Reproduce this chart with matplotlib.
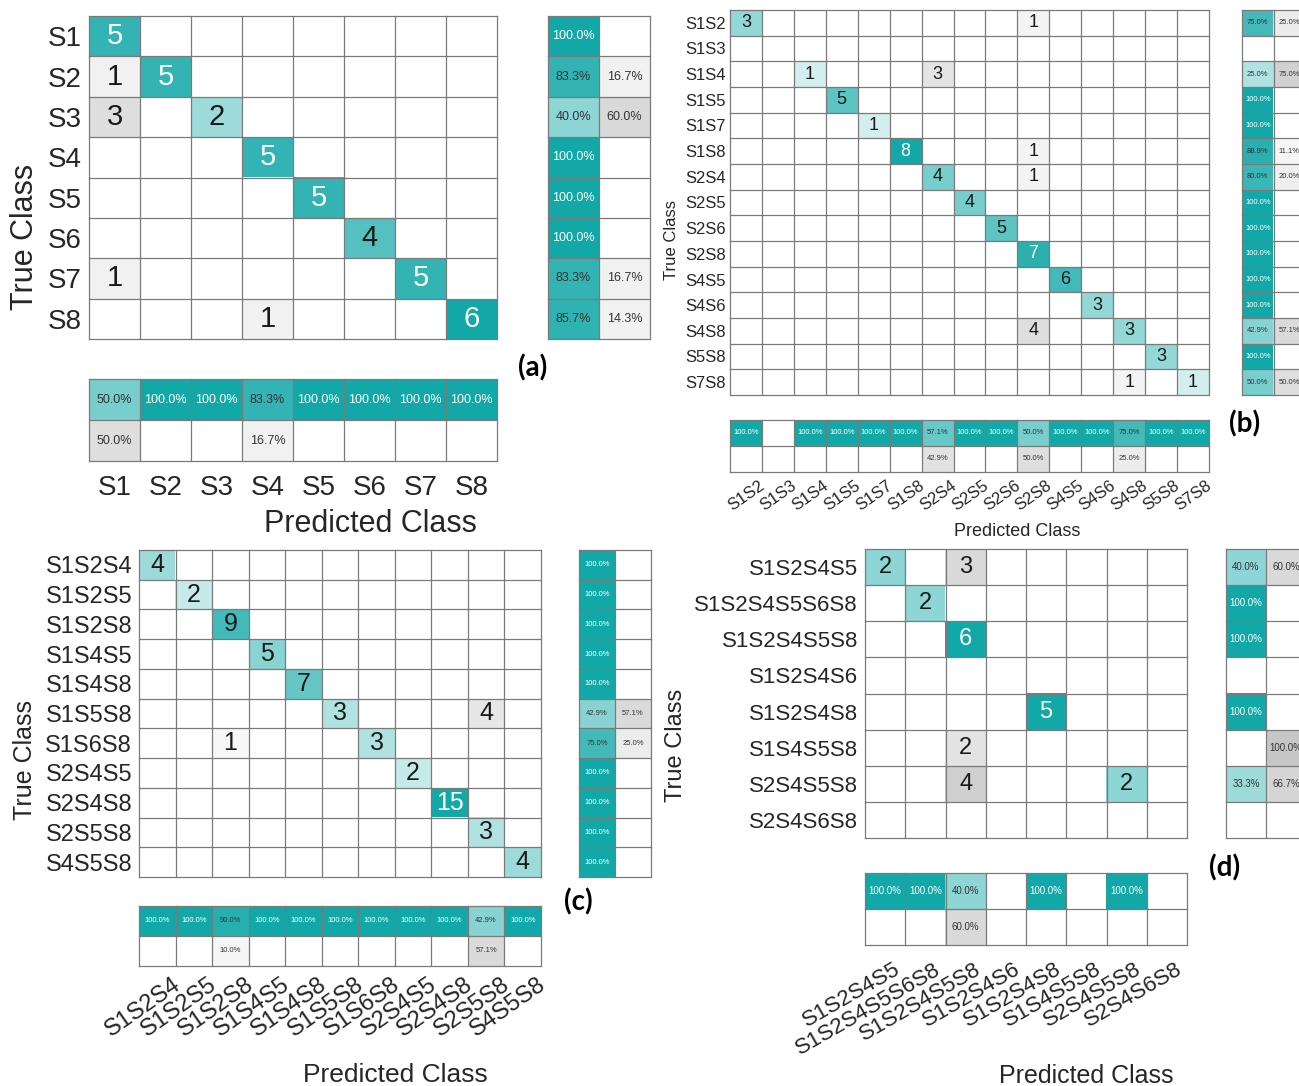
import numpy as np
import matplotlib
matplotlib.use("Agg")
import matplotlib.pyplot as plt

# ---------------- data ----------------
a_labels = ["S1", "S2", "S3", "S4", "S5", "S6", "S7", "S8"]
a_cm = [
    [5, 0, 0, 0, 0, 0, 0, 0],
    [1, 5, 0, 0, 0, 0, 0, 0],
    [3, 0, 2, 0, 0, 0, 0, 0],
    [0, 0, 0, 5, 0, 0, 0, 0],
    [0, 0, 0, 0, 5, 0, 0, 0],
    [0, 0, 0, 0, 0, 4, 0, 0],
    [1, 0, 0, 0, 0, 0, 5, 0],
    [0, 0, 0, 1, 0, 0, 0, 6],
]

b_labels = ["S1S2", "S1S3", "S1S4", "S1S5", "S1S7", "S1S8", "S2S4", "S2S5",
            "S2S6", "S2S8", "S4S5", "S4S6", "S4S8", "S5S8", "S7S8"]
b_cm = [
    [3, 0, 0, 0, 0, 0, 0, 0, 0, 1, 0, 0, 0, 0, 0],
    [0, 0, 0, 0, 0, 0, 0, 0, 0, 0, 0, 0, 0, 0, 0],
    [0, 0, 1, 0, 0, 0, 3, 0, 0, 0, 0, 0, 0, 0, 0],
    [0, 0, 0, 5, 0, 0, 0, 0, 0, 0, 0, 0, 0, 0, 0],
    [0, 0, 0, 0, 1, 0, 0, 0, 0, 0, 0, 0, 0, 0, 0],
    [0, 0, 0, 0, 0, 8, 0, 0, 0, 1, 0, 0, 0, 0, 0],
    [0, 0, 0, 0, 0, 0, 4, 0, 0, 1, 0, 0, 0, 0, 0],
    [0, 0, 0, 0, 0, 0, 0, 4, 0, 0, 0, 0, 0, 0, 0],
    [0, 0, 0, 0, 0, 0, 0, 0, 5, 0, 0, 0, 0, 0, 0],
    [0, 0, 0, 0, 0, 0, 0, 0, 0, 7, 0, 0, 0, 0, 0],
    [0, 0, 0, 0, 0, 0, 0, 0, 0, 0, 6, 0, 0, 0, 0],
    [0, 0, 0, 0, 0, 0, 0, 0, 0, 0, 0, 3, 0, 0, 0],
    [0, 0, 0, 0, 0, 0, 0, 0, 0, 4, 0, 0, 3, 0, 0],
    [0, 0, 0, 0, 0, 0, 0, 0, 0, 0, 0, 0, 0, 3, 0],
    [0, 0, 0, 0, 0, 0, 0, 0, 0, 0, 0, 0, 1, 0, 1],
]

c_labels = ["S1S2S4", "S1S2S5", "S1S2S8", "S1S4S5", "S1S4S8", "S1S5S8",
            "S1S6S8", "S2S4S5", "S2S4S8", "S2S5S8", "S4S5S8"]
c_cm = [
    [4, 0, 0, 0, 0, 0, 0, 0, 0, 0, 0],
    [0, 2, 0, 0, 0, 0, 0, 0, 0, 0, 0],
    [0, 0, 9, 0, 0, 0, 0, 0, 0, 0, 0],
    [0, 0, 0, 5, 0, 0, 0, 0, 0, 0, 0],
    [0, 0, 0, 0, 7, 0, 0, 0, 0, 0, 0],
    [0, 0, 0, 0, 0, 3, 0, 0, 0, 4, 0],
    [0, 0, 1, 0, 0, 0, 3, 0, 0, 0, 0],
    [0, 0, 0, 0, 0, 0, 0, 2, 0, 0, 0],
    [0, 0, 0, 0, 0, 0, 0, 0, 15, 0, 0],
    [0, 0, 0, 0, 0, 0, 0, 0, 0, 3, 0],
    [0, 0, 0, 0, 0, 0, 0, 0, 0, 0, 4],
]

d_labels = ["S1S2S4S5", "S1S2S4S5S6S8", "S1S2S4S5S8", "S1S2S4S6",
            "S1S2S4S8", "S1S4S5S8", "S2S4S5S8", "S2S4S6S8"]
d_cm = [
    [2, 0, 3, 0, 0, 0, 0, 0],
    [0, 2, 0, 0, 0, 0, 0, 0],
    [0, 0, 6, 0, 0, 0, 0, 0],
    [0, 0, 0, 0, 0, 0, 0, 0],
    [0, 0, 0, 0, 5, 0, 0, 0],
    [0, 0, 2, 0, 0, 0, 0, 0],
    [0, 0, 4, 0, 0, 0, 2, 0],
    [0, 0, 0, 0, 0, 0, 0, 0],
]

# ---------------- style ----------------
W, H = 1299, 1086
TEAL = np.array([20, 168, 168]) / 255.0
GRAY = np.array([198, 198, 198]) / 255.0
LINE = "#7a7a7a"
TXT = "#262626"
FONT = "Liberation Sans"

plt.rcParams["font.family"] = [FONT, "DejaVu Sans"]

fig = plt.figure(figsize=(W / 100, H / 100), dpi=100)


def rect(x0, y0, x1, y1):
    return [x0 / W, 1 - y1 / H, (x1 - x0) / W, (y1 - y0) / H]


def shade(base, f):
    f = np.clip(f, 0, 1) ** 0.8
    return 1 - (1 - base) * f


def grid(ax, nr, nc):
    for i in range(nr + 1):
        ax.plot([-0.5, nc - 0.5], [i - 0.5, i - 0.5], color=LINE, lw=0.9,
                solid_capstyle="projecting", clip_on=False)
    for j in range(nc + 1):
        ax.plot([j - 0.5, j - 0.5], [-0.5, nr - 0.5], color=LINE, lw=0.9,
                solid_capstyle="projecting", clip_on=False)
    ax.set_xlim(-0.5, nc - 0.5)
    ax.set_ylim(nr - 0.5, -0.5)
    for s in ax.spines.values():
        s.set_visible(False)


def panel(cm, labels, main, rsum, csum, cnorm, fs_num, fs_tick, fs_pct,
          rot, ypad, xpad, xlab, ylab, fs_xl, fs_yl, tag, tagpos, xshift=0):
    cm = np.array(cm, dtype=float)
    n = cm.shape[0]
    # ---- main matrix ----
    ax = fig.add_axes(rect(*main))
    rgb = np.ones((n, n, 3))
    for i in range(n):
        for j in range(n):
            v = cm[i, j]
            if v > 0:
                f = v / cnorm
                rgb[i, j] = shade(TEAL if i == j else GRAY, f)
                col = "white" if (i == j and f >= 0.8) else "#1a1a1a"
                ax.text(j, i, f"{int(v)}", ha="center", va="center",
                        fontsize=fs_num, color=col)
    ax.imshow(rgb, aspect="auto", interpolation="nearest")
    grid(ax, n, n)
    ax.set_xticks([])
    ax.set_yticks(range(n))
    ax.set_yticklabels(labels, fontsize=fs_tick, color=TXT)
    ax.tick_params(axis="y", length=0, pad=ypad)

    # ---- row summary ----
    rs = cm.sum(axis=1)
    axr = fig.add_axes(rect(*rsum))
    rgb = np.ones((n, 2, 3))
    for i in range(n):
        if rs[i] > 0:
            p = cm[i, i] / rs[i]
            for k, (val, base) in enumerate([(p, TEAL), (1 - p, GRAY)]):
                if val > 0:
                    rgb[i, k] = shade(base, val)
                    col = "white" if (k == 0 and val >= 0.95) else "#333333"
                    axr.text(k, i, f"{100 * val:.1f}%", ha="center",
                             va="center", fontsize=fs_pct, color=col)
    axr.imshow(rgb, aspect="auto", interpolation="nearest")
    grid(axr, n, 2)
    axr.set_xticks([])
    axr.set_yticks([])

    # ---- column summary ----
    cs = cm.sum(axis=0)
    axc = fig.add_axes(rect(*csum))
    rgb = np.ones((2, n, 3))
    for j in range(n):
        if cs[j] > 0:
            p = cm[j, j] / cs[j]
            for k, (val, base) in enumerate([(p, TEAL), (1 - p, GRAY)]):
                if val > 0:
                    rgb[k, j] = shade(base, val)
                    col = "white" if (k == 0 and val >= 0.95) else "#333333"
                    axc.text(j, k, f"{100 * val:.1f}%", ha="center",
                             va="center", fontsize=fs_pct, color=col)
    axc.imshow(rgb, aspect="auto", interpolation="nearest")
    grid(axc, 2, n)
    axc.set_yticks([])
    axc.set_xticks(np.arange(n) + xshift)
    if rot == 0:
        axc.set_xticklabels(labels, fontsize=fs_tick, color=TXT)
    else:
        axc.set_xticklabels(labels, fontsize=fs_tick, color=TXT,
                            rotation=rot, ha="right", va="top",
                            rotation_mode="anchor")
    axc.tick_params(axis="x", length=0, pad=xpad)

    fig.text(xlab[0] / W, 1 - xlab[1] / H, "Predicted Class",
             ha="center", va="center", fontsize=fs_xl, color=TXT)
    fig.text(ylab[0] / W, 1 - ylab[1] / H, "True Class", rotation=90,
             ha="center", va="center", fontsize=fs_yl, color=TXT)
    fig.text(tagpos[0] / W, 1 - tagpos[1] / H, tag, ha="center",
             va="center", fontsize=20, fontweight="bold", color="black",
             family=["Lato", "DejaVu Sans"])


panel(a_cm, a_labels, (89, 16, 497, 339), (548, 16, 650, 339),
      (89, 379, 497, 461), cnorm=6, fs_num=21, fs_tick=20, fs_pct=9,
      rot=0, ypad=5, xpad=10, xlab=(370, 524), ylab=(25, 237),
      fs_xl=22, fs_yl=22, tag="(a)", tagpos=(533, 368))

panel(b_cm, b_labels, (730, 10, 1209, 395), (1242, 10, 1305, 395),
      (730, 420, 1209, 472), cnorm=8, fs_num=13, fs_tick=12, fs_pct=5.5,
      rot=35, ypad=3, xpad=4, xlab=(1017, 531), ylab=(672, 240),
      fs_xl=13, fs_yl=12, tag="(b)", tagpos=(1245, 424), xshift=0.4)

panel(c_cm, c_labels, (139, 550, 541, 877), (579, 550, 651, 877),
      (139, 906, 541, 966), cnorm=12, fs_num=18, fs_tick=17, fs_pct=5.5,
      rot=35, ypad=5, xpad=5, xlab=(395, 1075), ylab=(25, 760),
      fs_xl=19, fs_yl=18, tag="(c)", tagpos=(578, 902), xshift=0.4)

panel(d_cm, d_labels, (865, 549, 1187, 838), (1226, 549, 1306, 838),
      (865, 873, 1187, 945), cnorm=5, fs_num=17, fs_tick=16, fs_pct=7,
      rot=30, ypad=5, xpad=10, xlab=(1086, 1076), ylab=(676, 745),
      fs_xl=18, fs_yl=17, tag="(d)", tagpos=(1225, 868), xshift=0.2)

fig.savefig("out.png", dpi=100)
